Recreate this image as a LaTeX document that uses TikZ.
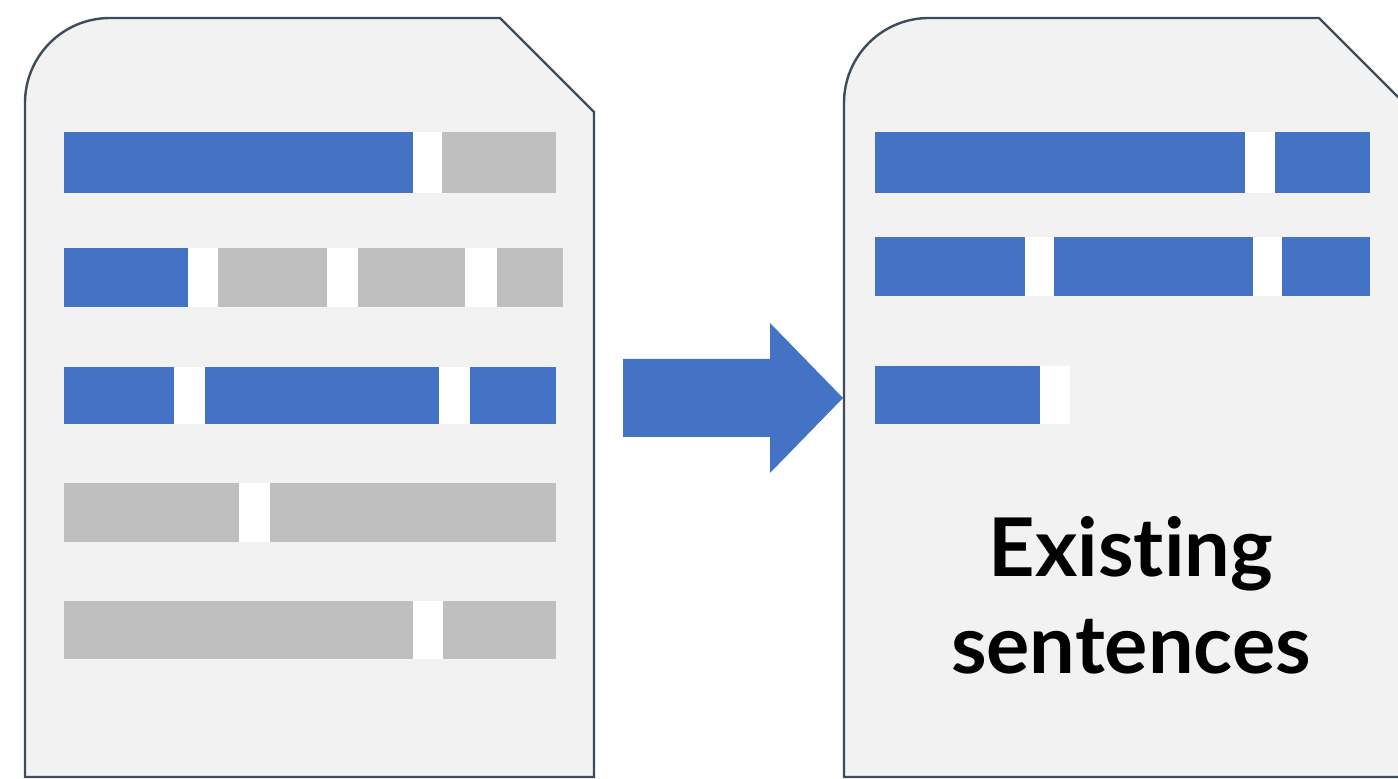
\documentclass[tikz,border=0pt]{standalone}
\usepackage{fontspec}
\newfontfamily\labelfont{Lato}[Ligatures=NoCommon]
\usepackage{tikz}
\definecolor{barblue}{HTML}{4472C4}
\definecolor{bargrey}{HTML}{BFBFBF}
\definecolor{sheet}{HTML}{F2F2F2}
\definecolor{sheetline}{HTML}{3F4A5A}

\begin{document}
\begin{tikzpicture}[%
  x=0.5pt,y=-0.5pt,
  doc/.style={draw=sheetline,line width=1.2pt,fill=sheet},
  bluebar/.style={fill=barblue},
  greybar/.style={fill=bargrey},
  gapbar/.style={fill=white},
  bigarrow/.style={fill=barblue},
  caption/.style={font=\labelfont\bfseries\fontsize{40.5}{48.5}\selectfont,
    align=center,inner sep=0pt}]
    \clip (0,0) rectangle (1398,779);
    % Documents
    \draw[doc] (25,777) -- (25,103) .. controls (25,56) and (63,18) .. (110,18)
      -- (500,18) -- (594,112) -- (594,777) -- cycle;
    \draw[doc] (844,777) -- (844,103) .. controls (844,56) and (882,18) .. (929,18)
      -- (1319,18) -- (1413,112) -- (1413,777) -- cycle;
    % Lines of the old document
    \foreach \ya/\yb/\xa/\xb/\kind in {
      132/193/64/413/bluebar, 132/193/413/442/gapbar, 132/193/442/556/greybar,
      248/307/64/188/bluebar, 248/307/188/218/gapbar, 248/307/218/327/greybar,
      248/307/327/358/gapbar, 248/307/358/465/greybar, 248/307/465/497/gapbar,
      248/307/497/563/greybar,
      367/424/64/174/bluebar, 367/424/174/205/gapbar, 367/424/205/439/bluebar,
      367/424/439/470/gapbar, 367/424/470/556/bluebar,
      483/542/64/239/greybar, 483/542/239/270/gapbar, 483/542/270/556/greybar,
      601/659/64/413/greybar, 601/659/413/443/gapbar, 601/659/443/556/greybar}
      \fill[\kind] (\xa,\ya) rectangle (\xb,\yb);
    % Lines of the new document
    \foreach \ya/\yb/\xa/\xb/\kind in {
      132/193/875/1245/bluebar, 132/193/1245/1275/gapbar, 132/193/1275/1370/bluebar,
      237/296/875/1025/bluebar, 237/296/1025/1054/gapbar, 237/296/1054/1253/bluebar,
      237/296/1253/1282/gapbar, 237/296/1282/1370/bluebar,
      366/424/875/1040/bluebar, 366/424/1040/1070/gapbar}
      \fill[\kind] (\xa,\ya) rectangle (\xb,\yb);
    % Arrow
    \fill[bigarrow] (623,359) -- (770,359) -- (770,323) -- (843,398)
      -- (770,473) -- (770,437) -- (623,437) -- cycle;
    \node[caption] (existing) at (1131,595) {Existing\\sentences};
\end{tikzpicture}
\end{document}
